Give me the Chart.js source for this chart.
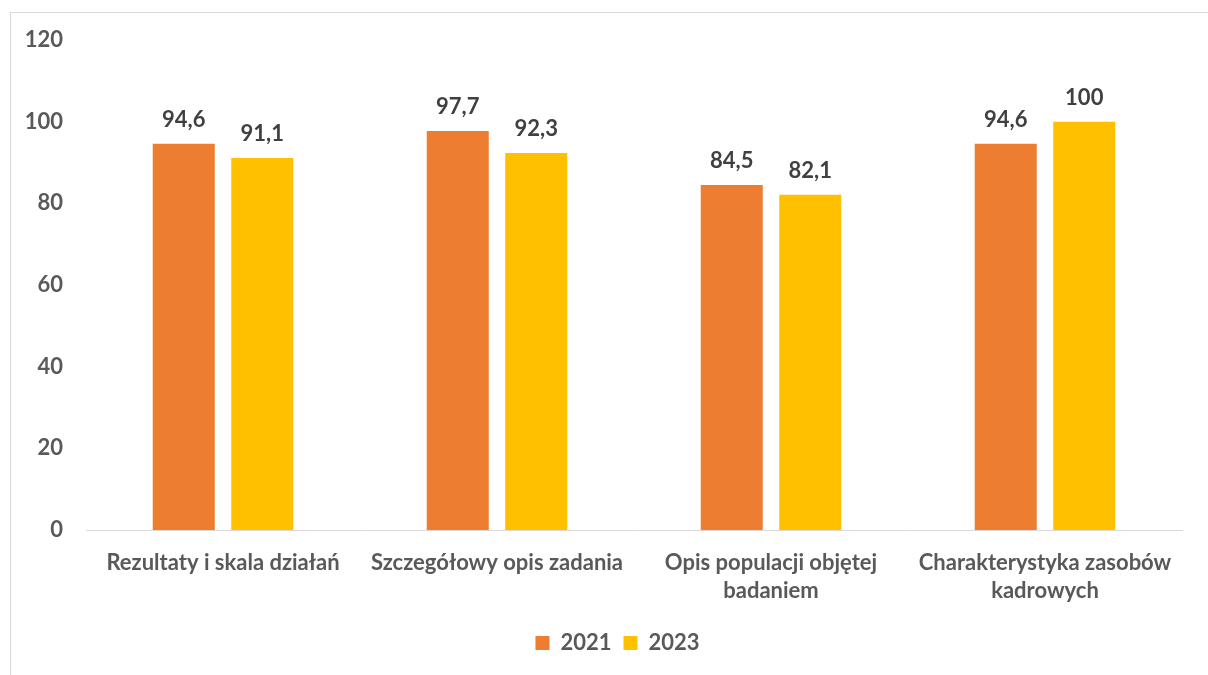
<!DOCTYPE html>
<html lang="pl">
<head>
<meta charset="utf-8">
<script src="https://cdn.jsdelivr.net/npm/chart.js@4/dist/chart.umd.min.js"></script>
<style>
    html, body { margin: 0; padding: 0; background: #fff; overflow: hidden; }
    #ramka {
        position: absolute;
        left: 10px;
        top: 12px;
        width: 1216px;
        height: 680px;
        border: 1px solid #d9d9d9;
    }
</style>
</head>
<body>
<div id="ramka"><canvas id="wykres"></canvas></div>
<script>
// Kategorie i wartości (%)
const kategorie = [
    'Rezultaty i skala działań',
    'Szczegółowy opis zadania',
    ['Opis populacji objętej', 'badaniem'],
    ['Charakterystyka zasobów', 'kadrowych']
];
const lata = ['2021', '2023'];
const wartosci2021 = [94.6, 97.7, 84.5, 94.6];
const wartosci2023 = [91.1, 92.3, 82.1, 100];
const kolory = ['#ED7D31', '#FFC000'];

const czcionka = { family: 'Lato, "Open Sans", sans-serif', size: 22, weight: 'bold' };

// Etykiety wartości nad słupkami, z przecinkiem dziesiętnym
const etykietyWartosci = {
    id: 'etykietyWartosci',
    afterDatasetsDraw(chart) {
        const ctx = chart.ctx;
        ctx.save();
        ctx.font = `bold ${czcionka.size}px ${czcionka.family}`;
        ctx.fillStyle = '#404040';
        ctx.textAlign = 'center';
        ctx.textBaseline = 'alphabetic';
        chart.data.datasets.forEach((ds, i) => {
            chart.getDatasetMeta(i).data.forEach((el, j) => {
                const tekst = ds.data[j].toString().replace('.', ',');
                ctx.fillText(tekst, el.x, el.y - 17);
            });
        });
        ctx.restore();
    }
};

// Legenda przesunięta nieco w prawo, pod środek wykresu
const przesunLegende = {
    id: 'przesunLegende',
    afterLayout(chart) {
        chart.legend.left += 21;
        chart.legend.right += 21;
    }
};

new Chart(document.getElementById('wykres'), {
    type: 'bar',
    data: {
        labels: kategorie,
        datasets: [
            { label: lata[0], data: wartosci2021, backgroundColor: kolory[0] },
            { label: lata[1], data: wartosci2023, backgroundColor: kolory[1] }
        ]
    },
    options: {
        responsive: true,
        maintainAspectRatio: false,
        animation: false,
        datasets: {
            bar: { categoryPercentage: 0.573, barPercentage: 0.79 }
        },
        layout: { padding: { top: 27, right: 45, bottom: 29, left: 0 } },
        plugins: {
            legend: {
                position: 'bottom',
                labels: {
                    boxWidth: 14,
                    boxHeight: 14,
                    padding: 12,
                    color: '#595959',
                    font: czcionka
                }
            },
            tooltip: { enabled: false }
        },
        scales: {
            x: {
                grid: { display: false, drawTicks: false },
                border: { display: true, color: '#d9d9d9', width: 1 },
                ticks: {
                    color: '#595959',
                    font: { ...czcionka, lineHeight: 1.27 },
                    padding: 19,
                    maxRotation: 0,
                    autoSkip: false
                },
                afterFit(scale) { scale.height = 90; }
            },
            y: {
                min: 0,
                max: 120,
                grid: { display: false, drawTicks: false },
                border: { display: false },
                ticks: {
                    stepSize: 20,
                    color: '#595959',
                    font: czcionka,
                    padding: 23
                },
                afterFit(scale) {
                    scale.width = 75;
                    // bez dodatkowego marginesu nad i pod osią
                    scale.paddingTop = 0;
                    scale.paddingBottom = 0;
                }
            }
        }
    },
    plugins: [etykietyWartosci, przesunLegende]
});
</script>
</body>
</html>
